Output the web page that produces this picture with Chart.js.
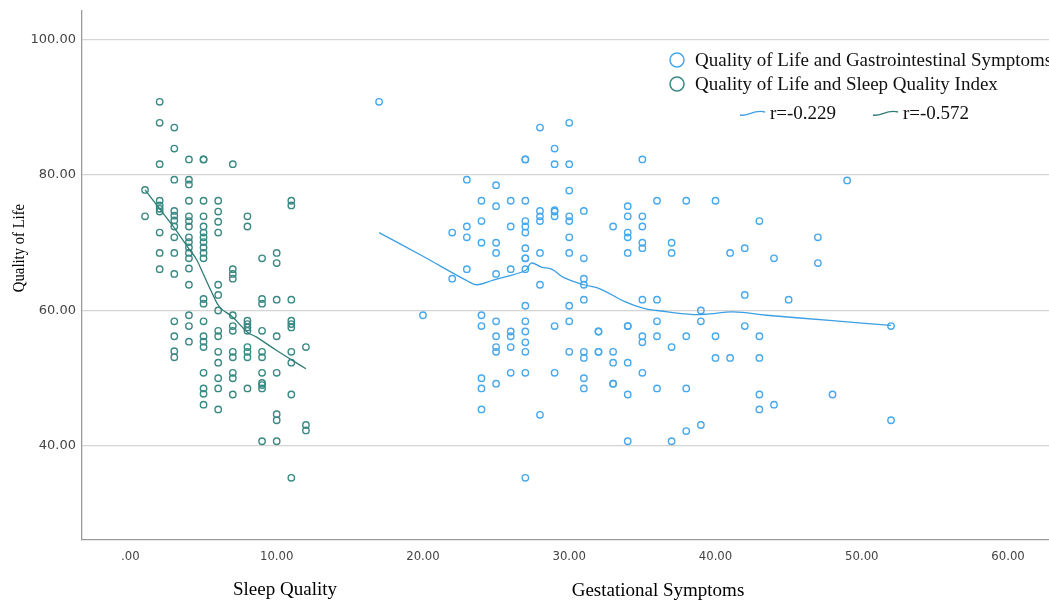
<!DOCTYPE html>
<html>
<head>
<meta charset="utf-8">
<script src="https://cdn.jsdelivr.net/npm/chart.js@4.4.1/dist/chart.umd.min.js"></script>
<style>
  body { margin: 0; background: #fff; }
  canvas { display: block; }
</style>
</head>
<body>
<canvas id="myChart" width="1049" height="601"></canvas>
<script>
// Sleep quality (x) vs quality of life (y)
const sleepX = [
  1, 1,
  2, 2, 2, 2, 2, 2, 2, 2, 2, 2,
  3, 3, 3, 3, 3, 3, 3, 3, 3, 3, 3, 3, 3, 3,
  4, 4, 4, 4, 4, 4, 4, 4, 4, 4, 4, 4, 4, 4, 4, 4, 4,
  5, 5, 5, 5, 5, 5, 5, 5, 5, 5, 5, 5, 5, 5, 5, 5, 5, 5, 5, 5, 5,
  6, 6, 6, 6, 6, 6, 6, 6, 6, 6, 6, 6, 6, 6,
  7, 7, 7, 7, 7, 7, 7, 7, 7, 7, 7, 7,
  8, 8, 8, 8, 8, 8, 8, 8, 8, 8,
  9, 9, 9, 9, 9, 9, 9, 9, 9, 9, 9,
  10, 10, 10, 10, 10, 10, 10, 10,
  11, 11, 11, 11, 11, 11, 11, 11, 11, 11,
  12, 12, 12
];
const sleepQoL = [
  77.8, 73.9,
  90.8, 87.7, 81.6, 76.2, 75.5, 75.0, 74.6, 71.5, 68.5, 66.1,
  87.0, 83.9, 79.3, 74.7, 74.0, 73.3, 72.4, 70.8, 68.5, 65.4, 58.4, 56.2, 54.0, 53.1,
  82.3, 79.3, 78.6, 76.2, 73.9, 73.2, 72.4, 70.8, 70.1, 69.3, 68.5, 67.7, 66.2, 63.8, 59.3, 57.7, 55.4,
  82.3, 82.3, 76.2, 73.9, 72.4, 71.5, 70.8, 70.1, 69.3, 68.5, 67.7, 61.7, 61.0, 58.4, 56.2, 55.4, 54.6, 50.8, 48.5, 47.7, 46.1,
  76.2, 74.6, 73.1, 71.5, 63.8, 62.3, 60.0, 57.0, 56.2, 53.9, 52.3, 50.0, 48.5, 45.4,
  81.6, 66.1, 65.4, 64.7, 59.3, 57.7, 57.0, 53.9, 53.1, 50.8, 50.0, 47.6,
  73.9, 72.4, 58.5, 58.0, 57.5, 57.0, 54.6, 53.9, 53.1, 48.5,
  67.7, 61.7, 61.0, 57.0, 53.9, 53.1, 50.8, 49.3, 49.0, 48.5, 40.7,
  68.5, 67.0, 61.6, 56.2, 50.8, 44.7, 43.8, 40.7,
  76.2, 75.5, 61.6, 58.5, 58.0, 57.5, 53.9, 52.3, 47.6, 35.3,
  54.6, 43.1, 42.3
];

// Gestational symptoms (x) vs quality of life (y)
const gestX = [
  17, 20, 22, 22,
  23, 23, 23, 23,
  24, 24, 24, 24, 24, 24, 24, 24,
  25, 25, 25, 25, 25, 25, 25, 25, 25, 25,
  26, 26, 26, 26, 26, 26, 26,
  27, 27, 27, 27, 27, 27, 27, 27, 27, 27, 27, 27, 27, 27, 27, 27, 27,
  28, 28, 28, 28, 28, 28, 28,
  29, 29, 29, 29, 29, 29, 29,
  30, 30, 30, 30, 30, 30, 30, 30, 30, 30,
  31, 31, 31, 31, 31, 31, 31, 31, 31,
  32, 32, 32, 32,
  33, 33, 33, 33, 33,
  34, 34, 34, 34, 34, 34, 34, 34, 34, 34,
  35, 35, 35, 35, 35, 35, 35, 35, 35,
  36, 36, 36, 36, 36,
  37, 37, 37, 37,
  38, 38, 38, 38,
  39, 39, 39,
  40, 40, 40,
  41, 41,
  42, 42, 42,
  43, 43, 43, 43, 43,
  44, 44, 45, 47, 47, 48, 49, 52, 52
];
const gestQoL = [
  90.8, 59.3, 71.5, 64.7,
  79.3, 72.4, 70.8, 66.1,
  76.2, 73.2, 70.0, 59.3, 57.7, 50.0, 48.5, 45.4,
  78.5, 75.4, 70.0, 68.5, 65.4, 58.4, 56.2, 54.6, 53.9, 49.2,
  76.2, 72.4, 66.1, 56.9, 56.2, 54.6, 50.8,
  82.3, 82.3, 76.2, 73.2, 72.4, 71.5, 69.2, 67.7, 67.7, 66.1, 60.7, 58.4, 56.9, 55.3, 53.9, 50.8, 35.3,
  87.0, 74.7, 73.9, 73.2, 68.5, 63.8, 44.6,
  83.9, 81.6, 74.8, 74.6, 73.9, 57.7, 50.8,
  87.7, 81.6, 77.7, 73.9, 73.2, 70.8, 68.5, 60.7, 58.4, 53.9,
  74.7, 67.7, 64.7, 63.8, 61.6, 53.9, 53.0, 50.0, 48.5,
  56.9, 56.9, 53.9, 53.9,
  72.4, 53.9, 52.3, 49.2, 49.2,
  75.4, 73.9, 71.5, 70.8, 68.5, 57.7, 57.7, 52.3, 47.6, 40.7,
  82.3, 73.9, 72.4, 70.0, 69.2, 61.6, 56.2, 55.3, 50.8,
  76.2, 61.6, 58.4, 56.2, 48.5,
  70.0, 68.5, 54.6, 40.7,
  76.2, 56.2, 48.5, 42.2,
  60.0, 58.4, 43.1,
  76.2, 56.2, 53.0,
  68.5, 53.0,
  69.2, 62.3, 57.7,
  73.2, 56.2, 53.0, 47.6, 45.4,
  67.7, 46.1, 61.6, 70.8, 67.0, 47.6, 79.2, 57.7, 43.8
];

// loess fit lines
const sleepFitX = [1, 2, 3, 4, 4.5, 5, 5.6, 6.1, 7, 8, 8.6, 10, 12];
const sleepFitY = [77.8, 75.0, 72.2, 69.1, 67.6, 65.3, 62.5, 60.5, 59.0, 56.8, 56.1, 54.1, 51.4];
const gestFitX = [17, 20, 23, 23.7, 24.8, 27, 27.4, 28.1, 28.8, 29.6, 31, 32.1, 33.8, 35.1, 36, 38.5, 39.6, 41.2, 43.5, 48, 52];
const gestFitY = [71.5, 68.0, 64.4, 63.8, 64.5, 65.9, 67.0, 66.4, 66.1, 64.9, 63.8, 63.2, 61.3, 60.3, 60.0, 59.4, 59.5, 59.8, 59.3, 58.5, 57.8];

const xTicks = [0, 10, 20, 30, 40, 50, 60];
const yTicks = [40, 60, 80, 100];

const legendGI = 'Quality of Life and Gastrointestinal Symptoms';
const legendSleep = 'Quality of Life and Sleep Quality Index';
const rGI = 'r=-0.229';
const rSleep = 'r=-0.572';

const BLUE = '#47a8ec';
const TEAL = '#3a8983';
const BLUE_LINE = '#3c9fe3';
const TEAL_LINE = '#2f7d76';
const SERIF = '"Liberation Serif", "Times New Roman", serif';

const toPts = (xs, ys) => xs.map((x, i) => ({x: x, y: ys[i]}));
const fmt = v => { let s = Number(v).toFixed(2); return s.startsWith('0') ? s.slice(1) : s; };

function wave(ctx, x, y, w, color) {
  ctx.save();
  ctx.strokeStyle = color;
  ctx.lineWidth = 1.3;
  ctx.beginPath();
  ctx.moveTo(x, y + 2);
  ctx.bezierCurveTo(x + w * 0.3, y + 4, x + w * 0.55, y - 4, x + w, y - 1);
  ctx.stroke();
  ctx.restore();
}

const decorations = {
  id: 'decorations',
  afterDraw(chart) {
    const ctx = chart.ctx;
    ctx.save();
    // legend
    ctx.font = '19px ' + SERIF;
    ctx.fillStyle = '#111';
    ctx.textBaseline = 'middle';
    ctx.textAlign = 'left';
    ctx.lineWidth = 1.5;
    ctx.strokeStyle = BLUE;
    ctx.beginPath(); ctx.arc(677, 60, 7, 0, Math.PI * 2); ctx.stroke();
    ctx.fillText(legendGI, 695, 61);
    ctx.strokeStyle = TEAL;
    ctx.beginPath(); ctx.arc(677, 84, 7, 0, Math.PI * 2); ctx.stroke();
    ctx.fillText(legendSleep, 695, 85);
    wave(ctx, 740, 113, 25, BLUE_LINE);
    ctx.fillText(rGI, 770, 114);
    wave(ctx, 873, 113, 25, TEAL_LINE);
    ctx.fillText(rSleep, 903, 114);

    // axis titles
    ctx.fillStyle = '#000';
    ctx.textAlign = 'center';
    ctx.font = '19px ' + SERIF;
    ctx.fillText('Sleep Quality', 285, 590);
    ctx.fillText('Gestational Symptoms', 658, 591);
    ctx.translate(20, 248);
    ctx.rotate(-Math.PI / 2);
    ctx.scale(0.92, 1);
    ctx.font = '16px ' + SERIF;
    ctx.fillText('Quality of Life', 0, 0);
    ctx.restore();
  }
};

const ctx = document.getElementById('myChart').getContext('2d');
new Chart(ctx, {
  type: 'scatter',
  data: {
    datasets: [
      {
        label: rGI,
        data: toPts(gestFitX, gestFitY),
        showLine: true,
        borderColor: BLUE_LINE,
        borderWidth: 1.3,
        pointRadius: 0,
        tension: 0.4,
        fill: false
      },
      {
        label: rSleep,
        data: toPts(sleepFitX, sleepFitY),
        showLine: true,
        borderColor: TEAL_LINE,
        borderWidth: 1.3,
        pointRadius: 0,
        tension: 0.4,
        fill: false
      },
      {
        label: legendGI,
        data: toPts(gestX, gestQoL),
        borderColor: BLUE,
        backgroundColor: 'rgba(0,0,0,0)',
        borderWidth: 1.4,
        pointRadius: 3.2,
        pointHoverRadius: 3.2
      },
      {
        label: legendSleep,
        data: toPts(sleepX, sleepQoL),
        borderColor: TEAL,
        backgroundColor: 'rgba(0,0,0,0)',
        borderWidth: 1.4,
        pointRadius: 3.2,
        pointHoverRadius: 3.2
      }
    ]
  },
  options: {
    responsive: false,
    animation: false,
    layout: { autoPadding: false, padding: { top: 11, left: 0, right: 0, bottom: 0 } },
    plugins: {
      legend: { display: false },
      tooltip: { enabled: false }
    },
    scales: {
      x: {
        type: 'linear',
        min: -3.31,
        max: 62.8,
        afterFit: s => { s.height = 61; s.paddingLeft = 0; s.paddingRight = 0; },
        afterBuildTicks: s => { s.ticks = xTicks.map(v => ({value: v})); },
        grid: { display: false, drawTicks: false },
        border: { color: '#9a9a9a', width: 1.3 },
        ticks: {
          padding: 9,
          color: '#444',
          font: { family: '"DejaVu Sans Condensed", "Liberation Sans", sans-serif', size: 13 },
          callback: v => fmt(v)
        }
      },
      y: {
        type: 'linear',
        min: 26.13,
        max: 104.2,
        afterFit: s => { s.width = 82; s.paddingTop = 0; s.paddingBottom = 0; },
        afterBuildTicks: s => { s.ticks = yTicks.map(v => ({value: v})); },
        grid: { color: '#d4d4d4', lineWidth: 1.3, drawTicks: false },
        border: { color: '#9a9a9a', width: 1.3 },
        ticks: {
          padding: 6,
          color: '#444',
          font: { family: '"DejaVu Sans", sans-serif', size: 13 },
          callback: v => fmt(v)
        }
      }
    }
  },
  plugins: [decorations]
});
</script>
</body>
</html>
